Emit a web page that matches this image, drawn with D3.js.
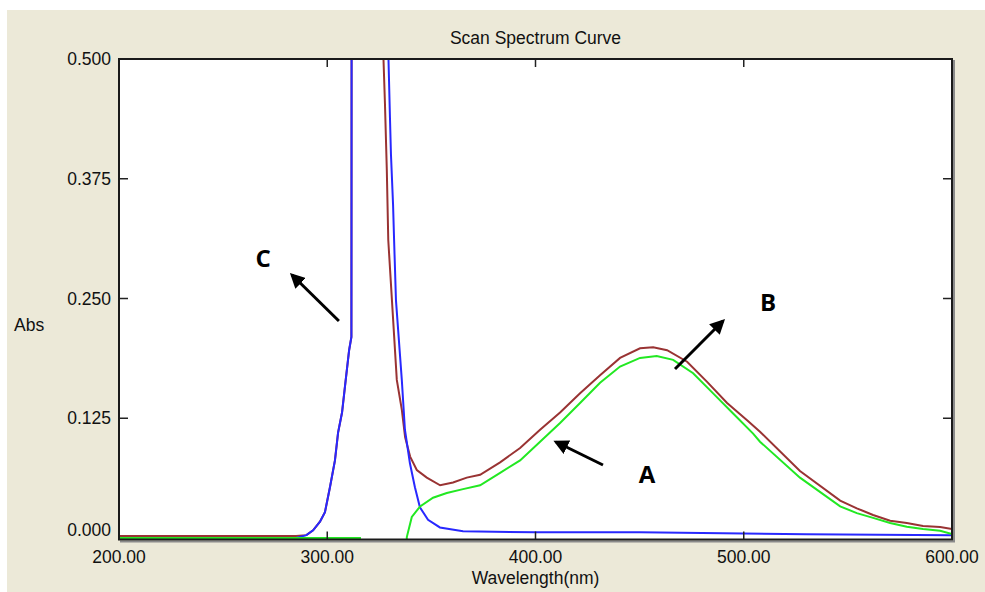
<!DOCTYPE html>
<html lang="en">
<head>
    <meta charset="UTF-8">
    <title>Scan Spectrum Curve</title>
    <script src="https://d3js.org/d3.v7.min.js"></script>
    <style>
        body { margin: 0; background: #fff; }
        text { font-family: "Liberation Sans", Arial, sans-serif; }
        .tick-label { font-size: 17.5px; fill: #111; }
        .note { font-family: "Open Sans", "Liberation Sans", sans-serif; font-weight: bold; font-size: 24px; fill: #000; }
    </style>
</head>
<body>
    <svg id="chart"></svg>

    <script>
        // Axis ticks
        var xTicks = [200, 300, 400, 500, 600];
        var yTicks = [0, 0.125, 0.25, 0.375, 0.5];

        // Curve B (brown) - wavelength (nm) / absorbance
        var bWl = [200, 285, 290, 293.2, 296.5, 298.9, 301.3, 303.7, 305.2, 307.1, 308.5, 310.5, 311.6, 311.7, 318,
                   326.5, 327, 327.7, 328.6, 329.3, 333.4, 335.8, 337.4, 339.8, 343.0, 347.8, 354.2, 360.4, 367.0, 373.4,
                   383.0, 392.6, 402.2, 411.8, 421.4, 431.0, 440.6, 450.2, 456.5, 463.2, 472.8, 482.4, 492.0, 501.6,
                   507.8, 527.0, 546.3, 554.3, 562.1, 570.3, 578.3, 586.1, 594.3, 600];
        var bAbs = [0.002, 0.002, 0.003, 0.008, 0.017, 0.027, 0.053, 0.081, 0.110, 0.131, 0.158, 0.196, 0.21, 0.55, 1.2,
                    0.55, 0.5, 0.454, 0.384, 0.311, 0.165, 0.134, 0.105, 0.085, 0.071, 0.063, 0.055, 0.058, 0.063, 0.066,
                    0.079, 0.094, 0.113, 0.131, 0.151, 0.170, 0.188, 0.198, 0.199, 0.196, 0.184, 0.163, 0.141, 0.123,
                    0.111, 0.070, 0.039, 0.031, 0.024, 0.018, 0.0157, 0.0125, 0.0115, 0.0094];

        // Curve C (blue)
        var cWl = [200, 285, 290, 293.2, 296.5, 298.9, 301.3, 303.7, 305.2, 307.1, 308.5, 310.5, 311.6, 311.7, 320,
                   329.2, 329.4, 330.1, 330.6, 331.6, 332.1, 333.0, 335.8, 337.3, 339.7, 342.1, 344.5, 348.4, 354.1,
                   365.2, 400, 450, 490, 530, 600];
        var cAbs = [0.0, 0.0, 0.003, 0.008, 0.017, 0.027, 0.053, 0.081, 0.110, 0.131, 0.158, 0.196, 0.21, 0.55, 1.2,
                    0.55, 0.5, 0.44, 0.40, 0.348, 0.311, 0.248, 0.165, 0.113, 0.078, 0.053, 0.032, 0.019, 0.011,
                    0.007, 0.006, 0.006, 0.005, 0.004, 0.003];

        // Curve A (green)
        var aWl = [200, 315.7, 316.2, 337.5, 338.2, 340.6, 344.6, 350.8, 357.4, 365.2, 373.4, 383.0, 392.6, 402.2,
                   411.8, 421.4, 431.0, 440.6, 450.2, 458.2, 466.1, 475.7, 485.3, 494.9, 504.5, 507.8, 527.0, 546.3,
                   554.3, 562.1, 570.3, 578.3, 586.1, 594.3, 600];
        var aAbs = [0.0, 0.0, -0.2, -0.2, 0.001, 0.022, 0.033, 0.042, 0.047, 0.051, 0.055, 0.068, 0.081, 0.1005,
                    0.120, 0.141, 0.162, 0.179, 0.188, 0.190, 0.186, 0.172, 0.151, 0.130, 0.109, 0.1005, 0.063, 0.033,
                    0.026, 0.021, 0.0157, 0.0118, 0.0094, 0.0076, 0.0042];

        // Annotations: label, label position, arrow tail, arrow tip (data units)
        var notes = [
            { label: "C", at: [269.2, 0.292], from: [305.6, 0.2265], to: [283.1, 0.2745] },
            { label: "A", at: [453.6, 0.0658], from: [432.4, 0.0762], to: [409.9, 0.1002] },
            { label: "B", at: [511.7, 0.2453], from: [467.0, 0.1764], to: [490.0, 0.2265] }
        ];

        var W = 985, H = 592;

        var x = d3.scaleLinear().domain([200, 600]).range([119, 952]);
        var y = d3.scaleLinear().domain([0, 0.5]).range([538, 59]);

        var svg = d3.select("#chart")
            .attr("width", W)
            .attr("height", H);

        // window background
        svg.append("rect")
            .attr("x", 7).attr("y", 10)
            .attr("width", W - 7).attr("height", H - 10)
            .attr("fill", "#ECE9D8");

        var pLeft = x(200), pRight = x(600), pTop = y(0.5), pBottom = y(0) + 1.5;

        // plot area
        svg.append("rect")
            .attr("x", pLeft).attr("y", pTop)
            .attr("width", pRight - pLeft).attr("height", pBottom - pTop)
            .attr("fill", "#fff");

        var defs = svg.append("defs");
        defs.append("clipPath").attr("id", "plot")
            .append("rect")
            .attr("x", pLeft).attr("y", pTop)
            .attr("width", pRight - pLeft).attr("height", pBottom - pTop);

        var line = d3.line()
            .x(d => x(d[0]))
            .y(d => y(d[1]));

        var series = [
            { wl: bWl, abs: bAbs, color: "#993333" },
            { wl: cWl, abs: cAbs, color: "#2828FF" },
            { wl: aWl, abs: aAbs, color: "#22E822" }
        ];

        var curves = svg.append("g").attr("clip-path", "url(#plot)");
        series.forEach(function(s) {
            curves.append("path")
                .datum(d3.zip(s.wl, s.abs))
                .attr("fill", "none")
                .attr("stroke", s.color)
                .attr("stroke-width", 2)
                .attr("d", line);
        });

        // inward ticks on all four sides
        var ticks = svg.append("g").attr("stroke", "#222").attr("stroke-width", 1.5);
        xTicks.slice(1, -1).forEach(function(t) {
            ticks.append("line").attr("x1", x(t)).attr("x2", x(t)).attr("y1", pBottom).attr("y2", pBottom - 8);
            ticks.append("line").attr("x1", x(t)).attr("x2", x(t)).attr("y1", pTop).attr("y2", pTop + 8);
        });
        yTicks.slice(1, -1).forEach(function(t) {
            ticks.append("line").attr("x1", pLeft).attr("x2", pLeft + 9).attr("y1", y(t)).attr("y2", y(t));
            ticks.append("line").attr("x1", pRight).attr("x2", pRight - 9).attr("y1", y(t)).attr("y2", y(t));
        });

        // frame with shadow
        svg.append("path")
            .attr("d", "M" + (pRight + 2) + "," + (pTop + 1) + "V" + (pBottom + 2) + "H" + (pLeft + 1))
            .attr("fill", "none").attr("stroke", "#8a8a8a").attr("stroke-width", 2);
        svg.append("rect")
            .attr("x", pLeft).attr("y", pTop)
            .attr("width", pRight - pLeft).attr("height", pBottom - pTop)
            .attr("fill", "none").attr("stroke", "#1a1a1a").attr("stroke-width", 2);

        // tick labels
        svg.selectAll(".xl").data(xTicks).enter().append("text")
            .attr("class", "tick-label")
            .attr("x", d => x(d)).attr("y", 563)
            .attr("text-anchor", "middle")
            .text(d => d3.format(".2f")(d));

        svg.selectAll(".yl").data(yTicks).enter().append("text")
            .attr("class", "tick-label")
            .attr("x", 111)
            .attr("y", d => d === 0 ? y(d) - 8 : y(d))
            .attr("dy", "0.35em")
            .attr("text-anchor", "end")
            .text(d => d3.format(".3f")(d));

        // titles
        svg.append("text").attr("class", "tick-label")
            .attr("x", (pLeft + pRight) / 2).attr("y", 44)
            .attr("text-anchor", "middle")
            .text("Scan Spectrum Curve");
        svg.append("text").attr("class", "tick-label")
            .attr("x", (pLeft + pRight) / 2).attr("y", 584)
            .attr("text-anchor", "middle")
            .text("Wavelength(nm)");
        svg.append("text").attr("class", "tick-label")
            .attr("x", 14).attr("y", 331)
            .text("Abs");

        // annotation arrows
        defs.append("marker")
            .attr("id", "head")
            .attr("viewBox", "0 0 10 10")
            .attr("refX", 8).attr("refY", 5)
            .attr("markerWidth", 5).attr("markerHeight", 5)
            .attr("markerUnits", "strokeWidth")
            .attr("orient", "auto")
            .append("path").attr("d", "M0,0L10,5L0,10Z").attr("fill", "#000");

        notes.forEach(function(n) {
            svg.append("line")
                .attr("x1", x(n.from[0])).attr("y1", y(n.from[1]))
                .attr("x2", x(n.to[0])).attr("y2", y(n.to[1]))
                .attr("stroke", "#000").attr("stroke-width", 3)
                .attr("marker-end", "url(#head)");
            svg.append("text").attr("class", "note")
                .attr("x", x(n.at[0])).attr("y", y(n.at[1]))
                .attr("dy", "0.35em")
                .attr("text-anchor", "middle")
                .text(n.label);
        });
    </script>
</body>
</html>
